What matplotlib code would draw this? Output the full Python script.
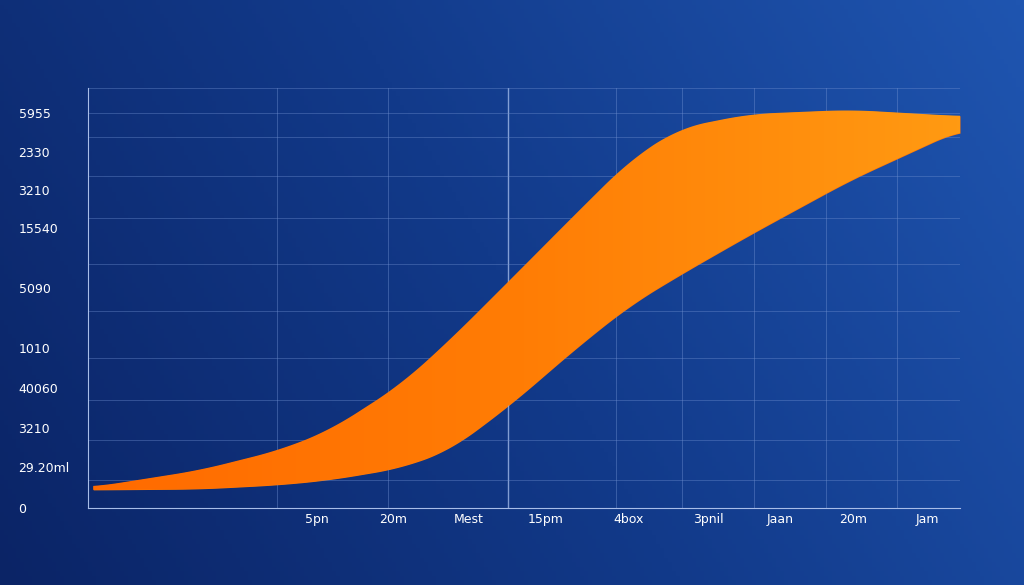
import numpy as np
import matplotlib
matplotlib.use("Agg")
import matplotlib.pyplot as plt
from matplotlib.colors import LinearSegmentedColormap

x = [0.6, 12.8, 22, 27.8, 35.8, 41.5, 48.4, 56.4, 62.2, 67.9, 75.9, 87.4, 100]
upper = [5.0, 9.0, 13.8, 18.6, 29.3, 40.0, 54.3, 71.0, 82.9, 90.5, 93.8, 94.8, 93.3]
lower = [4.3, 4.5, 5.5, 6.7, 9.5, 13.8, 24.5, 38.8, 48.3, 55.5, 65.0, 78.0, 90.0]
ytick_pos = [0, 9.8, 19.0, 28.6, 38.1, 52.4, 66.7, 75.7, 84.8, 94.0]
ytick_labels = ["0", "29.20ml", "3210", "40060", "1010", "5090", "15540", "3210", "2330", "5955"]
xtick_pos = [26.2, 35.0, 43.6, 52.5, 62.0, 71.1, 79.4, 87.7, 96.3]
xtick_labels = ["5pn", "20m", "Mest", "15pm", "4box", "3pnil", "Jaan", "20m", "Jam"]

W, H = 1024, 585
fig = plt.figure(figsize=(W/100, H/100), dpi=100)
bg = fig.add_axes([0, 0, 1, 1])
gx, gy = np.meshgrid(np.linspace(0, 1, 256), np.linspace(0, 1, 128))
g = 0.75*gx + 0.25*gy
bcm = LinearSegmentedColormap.from_list("bg", ["#0b2466", "#123a8a", "#1f55b0"])
bg.imshow(g, cmap=bcm, aspect="auto", extent=[0, 1, 0, 1], origin="lower")
bg.axis("off")

ax = fig.add_axes([88/W, 1-508/H, 872/W, 420/H])
ax.set_facecolor("none")
ax.set_xlim(0, 100); ax.set_ylim(0, 100)
for v in [21.7, 34.4, 60.6, 68.1, 76.4, 84.6, 92.8]:
    ax.axvline(v, color="#6f8fd0", lw=0.6, alpha=0.5)
ax.axvline(48.2, color="#9fb8e8", lw=1.0, alpha=0.8)
for v in [6.7, 16.2, 25.7, 35.7, 46.9, 58.1, 69.0, 79.0, 88.3, 94.0]:
    ax.axhline(v, color="#6f8fd0", lw=0.6, alpha=0.45)
ax.axhline(100, color="#6f8fd0", lw=0.6, alpha=0.45)

xf = np.linspace(0.6, 100, 400)
uf = np.interp(xf, x, upper); lf = np.interp(xf, x, lower)
k = np.ones(25)/25
uf2 = np.convolve(np.pad(uf, 12, mode="edge"), k, "valid")
lf2 = np.convolve(np.pad(lf, 12, mode="edge"), k, "valid")
poly = ax.fill_between(xf, lf2, uf2, color="#ff7a05", lw=0)
ocm = LinearSegmentedColormap.from_list("o", ["#ff6a00", "#ff7d05", "#ff9a12"])
im = ax.imshow(np.linspace(0, 1, 256)[None, :], cmap=ocm, aspect="auto",
               extent=[0, 100, 0, 100], zorder=3)
im.set_clip_path(poly.get_paths()[0], transform=ax.transData)

ax.set_yticks(ytick_pos, ytick_labels)
ax.set_xticks(xtick_pos, xtick_labels)
ax.tick_params(colors="white", labelsize=9, length=0)
ax.tick_params(axis="y", pad=50)
for t in ax.get_yticklabels():
    t.set_horizontalalignment("left")
for s in ["top", "right"]:
    ax.spines[s].set_visible(False)
for s in ["left", "bottom"]:
    ax.spines[s].set_color("#a8bde8"); ax.spines[s].set_linewidth(0.8)
fig.savefig("out.png", dpi=100)
